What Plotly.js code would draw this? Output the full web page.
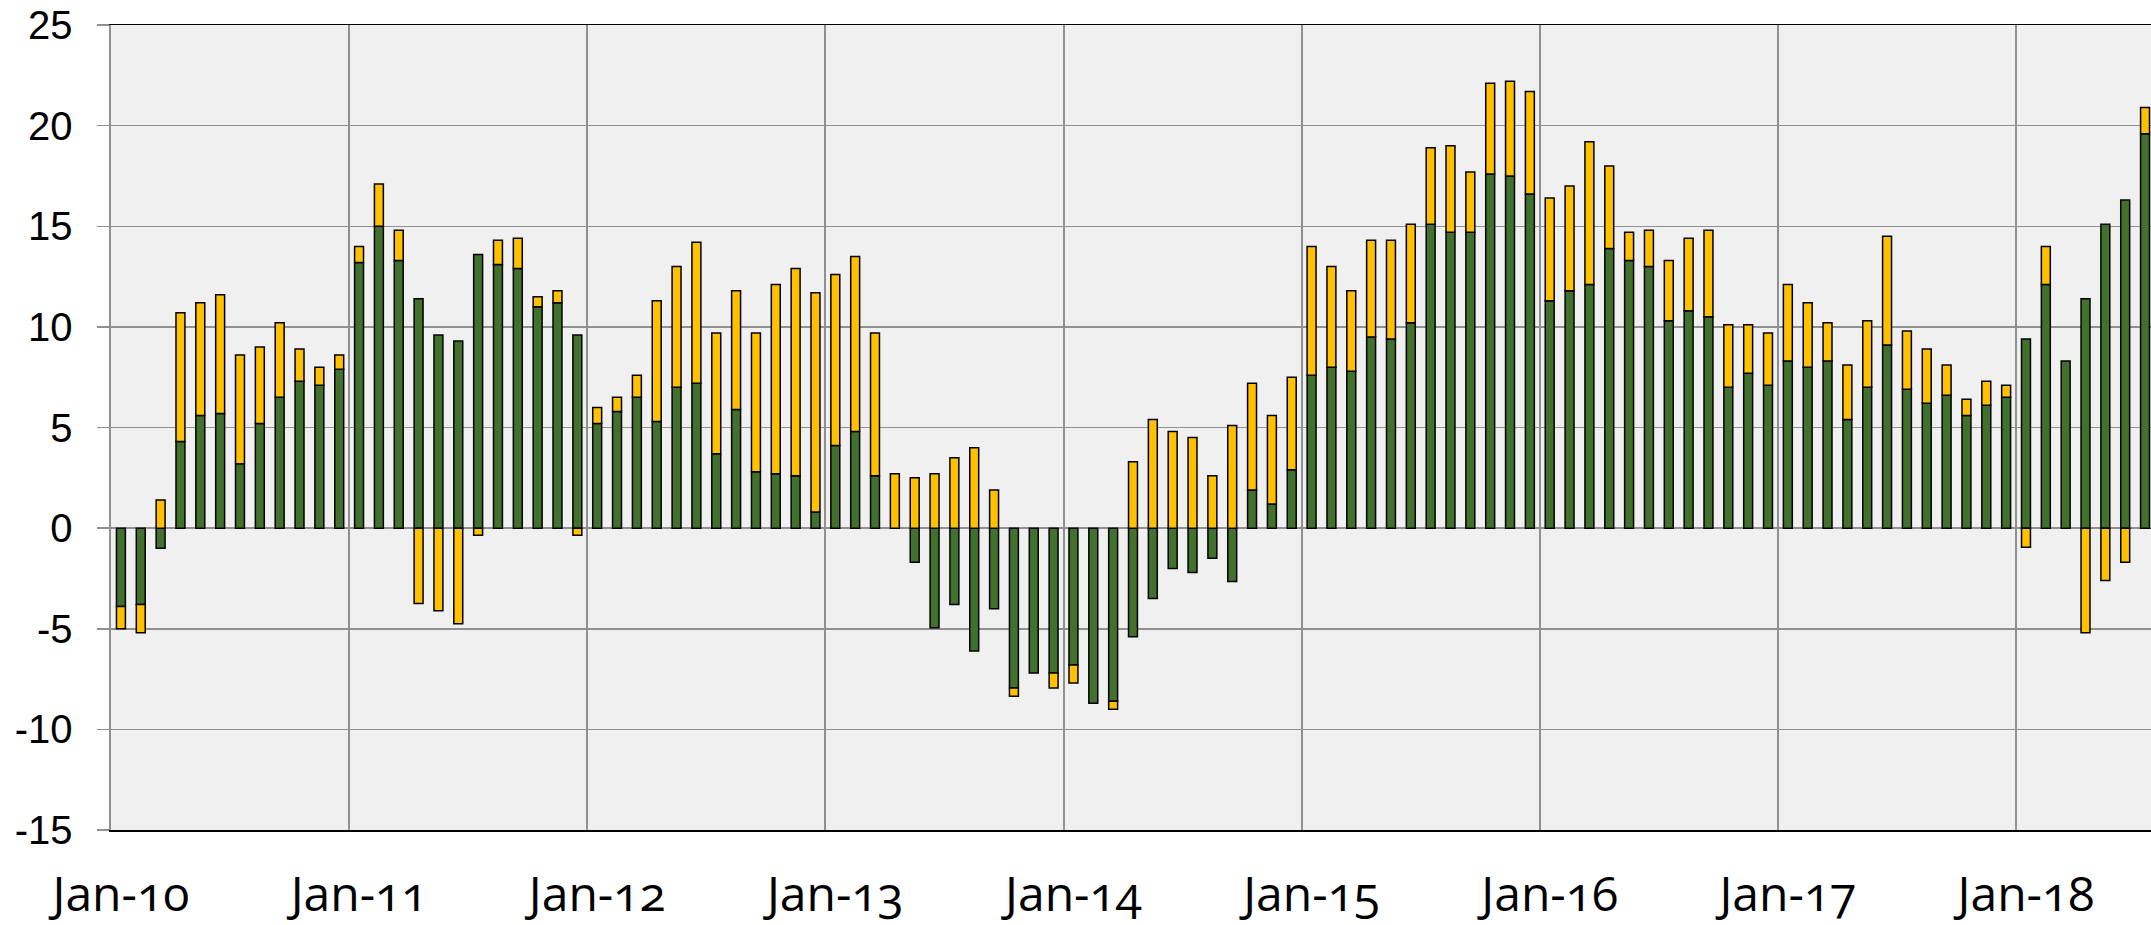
<!DOCTYPE html>
<html>
<head>
<meta charset="utf-8">
<script src="https://cdn.plot.ly/plotly-3.0.1.min.js"></script>
<style>
  html, body { margin: 0; padding: 0; background: #ffffff; }
  #chart { width: 2151px; height: 925px; }
  .xtick text { font-feature-settings: "onum" 1; font-variant-numeric: oldstyle-nums; }
</style>
</head>
<body>
<div id="chart"></div>
<script>
// Monthly categories Jan-10 .. Jul-18
const months = [
  "Jan-10","Feb-10","Mar-10","Apr-10","May-10","Jun-10","Jul-10","Aug-10","Sep-10","Oct-10","Nov-10","Dec-10",
  "Jan-11","Feb-11","Mar-11","Apr-11","May-11","Jun-11","Jul-11","Aug-11","Sep-11","Oct-11","Nov-11","Dec-11",
  "Jan-12","Feb-12","Mar-12","Apr-12","May-12","Jun-12","Jul-12","Aug-12","Sep-12","Oct-12","Nov-12","Dec-12",
  "Jan-13","Feb-13","Mar-13","Apr-13","May-13","Jun-13","Jul-13","Aug-13","Sep-13","Oct-13","Nov-13","Dec-13",
  "Jan-14","Feb-14","Mar-14","Apr-14","May-14","Jun-14","Jul-14","Aug-14","Sep-14","Oct-14","Nov-14","Dec-14",
  "Jan-15","Feb-15","Mar-15","Apr-15","May-15","Jun-15","Jul-15","Aug-15","Sep-15","Oct-15","Nov-15","Dec-15",
  "Jan-16","Feb-16","Mar-16","Apr-16","May-16","Jun-16","Jul-16","Aug-16","Sep-16","Oct-16","Nov-16","Dec-16",
  "Jan-17","Feb-17","Mar-17","Apr-17","May-17","Jun-17","Jul-17","Aug-17","Sep-17","Oct-17","Nov-17","Dec-17",
  "Jan-18","Feb-18","Mar-18","Apr-18","May-18","Jun-18","Jul-18"
];

// Green series (base component)
const greenValues = [
  -3.9, -3.8, -1.0, 4.3, 5.6, 5.7, 3.2, 5.2, 6.5, 7.3, 7.1, 7.9,
  13.2, 15.0, 13.3, 11.4, 9.6, 9.3, 13.6, 13.1, 12.9, 11.0, 11.2, 9.6,
  5.2, 5.8, 6.5, 5.3, 7.0, 7.2, 3.7, 5.9, 2.8, 2.7, 2.6, 0.8,
  4.1, 4.8, 2.6, null, -1.7, -4.95, -3.8, -6.1, -4.0, -7.95, -7.2, -7.2,
  -6.8, -8.7, -8.6, -5.4, -3.5, -2.0, -2.2, -1.5, -2.65, 1.9, 1.2, 2.9,
  7.6, 8.0, 7.8, 9.5, 9.4, 10.2, 15.1, 14.7, 14.7, 17.6, 17.5, 16.6,
  11.3, 11.8, 12.1, 13.9, 13.3, 13.0, 10.3, 10.8, 10.5, 7.0, 7.7, 7.1,
  8.3, 8.0, 8.3, 5.4, 7.0, 9.1, 6.9, 6.2, 6.6, 5.6, 6.1, 6.5,
  9.4, 12.1, 8.3, 11.4, 15.1, 16.3, 19.6
];

// Yellow series (stacked component)
const yellowValues = [
  -1.1, -1.4, 1.4, 6.4, 5.6, 5.9, 5.4, 3.8, 3.7, 1.6, 0.9, 0.7,
  0.8, 2.1, 1.5, -3.75, -4.1, -4.75, -0.35, 1.2, 1.5, 0.5, 0.6, -0.35,
  0.8, 0.7, 1.1, 6.0, 6.0, 7.0, 6.0, 5.9, 6.9, 9.4, 10.3, 10.9,
  8.5, 8.7, 7.1, 2.7, 2.5, 2.7, 3.5, 4.0, 1.9, -0.4, null, -0.75,
  -0.9, null, -0.4, 3.3, 5.4, 4.8, 4.5, 2.6, 5.1, 5.3, 4.4, 4.6,
  6.4, 5.0, 4.0, 4.8, 4.9, 4.9, 3.8, 4.3, 3.0, 4.5, 4.7, 5.1,
  5.1, 5.2, 7.1, 4.1, 1.4, 1.8, 3.0, 3.6, 4.3, 3.1, 2.4, 2.6,
  3.8, 3.2, 1.9, 2.7, 3.3, 5.4, 2.9, 2.7, 1.5, 0.8, 1.2, 0.6,
  -0.95, 1.9, null, -5.2, -2.6, -1.7, 1.3
];

// Axis tick labels
const xTickLabels = ["Jan-10","Jan-11","Jan-12","Jan-13","Jan-14","Jan-15","Jan-16","Jan-17","Jan-18"];
const yTickVals = [-15, -10, -5, 0, 5, 10, 15, 20, 25];
const yTickText = ["-15", "-10", "-5", "0", "5", "10", "15", "20", "25"];

// Positions: each month is one slot on a linear axis
const xPos = months.map((m, i) => i);
const xTickPos = xTickLabels.map(l => months.indexOf(l));

const traces = [
  {
    type: "bar",
    x: xPos,
    y: greenValues,
    text: months,
    marker: { color: "#41712C", line: { color: "#000000", width: 1.5 } },
    hovertemplate: "%{text}: %{y}<extra></extra>",
    textposition: "none"
  },
  {
    type: "bar",
    x: xPos,
    y: yellowValues,
    text: months,
    marker: { color: "#FFC000", line: { color: "#000000", width: 1.5 } },
    hovertemplate: "%{text}: %{y}<extra></extra>",
    textposition: "none"
  }
];

const layout = {
  width: 2151,
  height: 925,
  margin: { l: 111, r: 0, t: 25, b: 95, pad: 0 },
  paper_bgcolor: "#ffffff",
  plot_bgcolor: "#F0F0F0",
  barmode: "relative",
  bargap: 0.55,
  showlegend: false,
  xaxis: {
    type: "linear",
    range: [-0.5, 102.3],
    tickmode: "array",
    tickvals: xTickPos,
    ticktext: xTickLabels,
    tickangle: 0,
    ticks: "",
    showgrid: false,
    zeroline: false,
    minor: {
      tickmode: "linear",
      tick0: -0.5,
      dtick: 12,
      ticks: "",
      showgrid: true,
      gridcolor: "#909090",
      gridwidth: 2
    },
    showline: true,
    linecolor: "#000000",
    linewidth: 1.5,
    mirror: true,
    tickfont: { family: "Open Sans, Noto Sans, sans-serif", size: 48, color: "#000000" },
    ticklabelstandoff: 22,
    fixedrange: true
  },
  yaxis: {
    range: [-15, 25],
    tickmode: "array",
    tickvals: yTickVals,
    ticktext: yTickText,
    ticks: "outside",
    ticklen: 12,
    tickwidth: 1.5,
    tickcolor: "#909090",
    showgrid: true,
    gridcolor: "#909090",
    gridwidth: 1.5,
    zeroline: false,
    showline: true,
    linecolor: "#909090",
    linewidth: 2.5,
    tickfont: { family: "Liberation Sans, Arial, sans-serif", size: 40, color: "#000000" },
    ticklabelstandoff: 16,
    fixedrange: true
  }
};

Plotly.newPlot("chart", traces, layout, { displayModeBar: false, staticPlot: true });
</script>
</body>
</html>
